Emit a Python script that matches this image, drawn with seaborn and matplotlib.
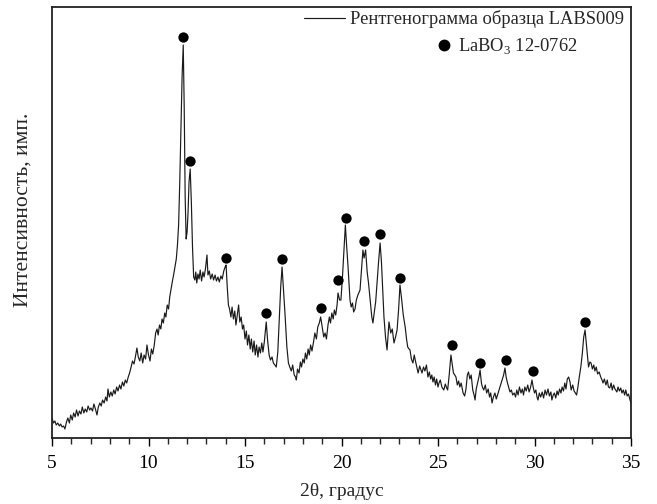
import matplotlib
matplotlib.use("Agg")
import matplotlib.pyplot as plt
import seaborn as sns
import pandas as pd
from matplotlib.ticker import MultipleLocator, NullLocator
from matplotlib.lines import Line2D

# ---- data (2theta in degrees, intensity in arbitrary units) ----
two_theta = [
    5.00, 5.08, 5.15, 5.22, 5.30, 5.38, 5.45, 5.52, 5.60, 5.67, 5.75, 5.82, 5.90, 5.97,
    6.05, 6.12, 6.20, 6.27, 6.35, 6.42, 6.50, 6.57, 6.65, 6.72, 6.80, 6.87, 6.95, 7.02,
    7.10, 7.17, 7.25, 7.33, 7.40, 7.48, 7.55, 7.62, 7.70, 7.78, 7.85, 7.90, 7.97, 8.05,
    8.12, 8.20, 8.27, 8.35, 8.42, 8.50, 8.57, 8.65, 8.72, 8.80, 8.87, 8.95, 9.02, 9.10,
    9.17, 9.25, 9.32, 9.40, 9.47, 9.55, 9.62, 9.70, 9.77, 9.85, 9.92, 10.00, 10.08, 10.15,
    10.22, 10.30, 10.37, 10.44, 10.50, 10.57, 10.64, 10.70, 10.77, 10.84, 10.90, 10.97,
    11.04, 11.10, 11.17, 11.24, 11.30, 11.37, 11.44, 11.50, 11.56, 11.62, 11.68, 11.74,
    11.80, 11.85, 11.90, 11.95, 12.00, 12.05, 12.10, 12.16, 12.22, 12.28, 12.34, 12.40,
    12.45, 12.50, 12.56, 12.62, 12.68, 12.75, 12.82, 12.88, 12.95, 13.03, 13.08, 13.15,
    13.22, 13.30, 13.37, 13.45, 13.52, 13.60, 13.67, 13.75, 13.82, 13.90, 13.97, 14.02,
    14.08, 14.14, 14.20, 14.27, 14.33, 14.40, 14.47, 14.53, 14.60, 14.67, 14.73, 14.80,
    14.87, 14.93, 15.00, 15.07, 15.13, 15.20, 15.27, 15.33, 15.40, 15.47, 15.53, 15.60,
    15.67, 15.73, 15.80, 15.87, 15.93, 16.00, 16.05, 16.10, 16.17, 16.25, 16.32, 16.40,
    16.47, 16.55, 16.62, 16.70, 16.78, 16.85, 16.92, 17.00, 17.07, 17.17, 17.25, 17.32,
    17.40, 17.47, 17.55, 17.62, 17.66, 17.72, 17.80, 17.87, 17.93, 18.00, 18.07, 18.13,
    18.20, 18.27, 18.33, 18.40, 18.47, 18.55, 18.62, 18.70, 18.77, 18.85, 18.92, 19.00,
    19.08, 19.15, 19.22, 19.30, 19.37, 19.43, 19.50, 19.57, 19.63, 19.70, 19.77, 19.82,
    19.90, 19.97, 20.05, 20.12, 20.20, 20.27, 20.34, 20.40, 20.44, 20.50, 20.57, 20.63,
    20.70, 20.77, 20.85, 20.96, 21.03, 21.11, 21.17, 21.25, 21.33, 21.40, 21.50, 21.57,
    21.63, 21.70, 21.77, 21.84, 21.92, 22.00, 22.07, 22.12, 22.20, 22.28, 22.36, 22.46,
    22.55, 22.63, 22.72, 22.80, 22.88, 22.96, 23.03, 23.12, 23.20, 23.30, 23.37, 23.43,
    23.50, 23.55, 23.62, 23.70, 23.77, 23.82, 23.90, 23.97, 24.05, 24.12, 24.17, 24.25,
    24.32, 24.40, 24.48, 24.55, 24.62, 24.68, 24.74, 24.80, 24.87, 24.93, 25.00, 25.05,
    25.12, 25.20, 25.30, 25.38, 25.45, 25.50, 25.58, 25.67, 25.74, 25.80, 25.87, 25.93,
    26.00, 26.07, 26.13, 26.20, 26.30, 26.38, 26.45, 26.52, 26.58, 26.65, 26.72, 26.80,
    26.87, 26.92, 26.98, 27.05, 27.12, 27.18, 27.25, 27.30, 27.37, 27.45, 27.52, 27.60,
    27.67, 27.73, 27.80, 27.87, 27.95, 28.02, 28.10, 28.17, 28.25, 28.32, 28.40, 28.47,
    28.53, 28.60, 28.67, 28.73, 28.80, 28.87, 28.95, 29.02, 29.08, 29.15, 29.22, 29.30,
    29.37, 29.43, 29.50, 29.57, 29.65, 29.72, 29.80, 29.87, 29.93, 30.00, 30.07, 30.13,
    30.18, 30.25, 30.32, 30.40, 30.47, 30.55, 30.62, 30.70, 30.77, 30.85, 30.90, 30.97,
    31.03, 31.10, 31.17, 31.23, 31.30, 31.37, 31.43, 31.50, 31.57, 31.63, 31.70, 31.77,
    31.84, 31.90, 31.98, 32.05, 32.12, 32.18, 32.25, 32.32, 32.40, 32.48, 32.55, 32.62,
    32.68, 32.75, 32.80, 32.87, 32.93, 33.00, 33.07, 33.13, 33.20, 33.27, 33.35, 33.43,
    33.50, 33.55, 33.62, 33.70, 33.77, 33.83, 33.90, 33.97, 34.03, 34.10, 34.17, 34.27,
    34.33, 34.40, 34.47, 34.53, 34.60, 34.67, 34.73, 34.80, 34.87, 34.95, 35.00,
]
intensity = [
    19, 14, 16, 12, 14, 11, 13, 10, 11, 8, 15, 19, 14, 22,
    17, 24, 20, 27, 21, 26, 23, 30, 24, 28, 25, 31, 27, 29,
    26, 33, 28, 22, 30, 34, 31, 37, 34, 40, 36, 48, 40, 45,
    41, 47, 43, 50, 46, 52, 48, 55, 51, 57, 54, 60, 64, 70,
    76, 73, 80, 89, 80, 76, 84, 74, 82, 78, 92, 82, 76, 88,
    83, 92, 104, 108, 102, 112, 108, 118, 114, 124, 120, 132,
    128, 140, 148, 156, 162, 170, 178, 192, 212, 255, 310, 360,
    392, 330, 240, 198, 205, 225, 255, 268, 235, 190, 160, 157,
    165, 154, 163, 158, 167, 156, 165, 160, 168, 182, 162, 166,
    158, 163, 157, 162, 156, 160, 155, 161, 158, 166, 170, 172,
    150, 132, 128, 120, 130, 118, 126, 112, 122, 132, 115, 120,
    108, 112, 98, 106, 92, 102, 88, 98, 85, 96, 82, 92,
    80, 90, 84, 94, 85, 95, 105, 115, 97, 82, 77, 80,
    74, 72, 70, 85, 120, 150, 170, 145, 124, 90, 74, 70,
    66, 72, 62, 60, 57, 68, 64, 75, 70, 78, 74, 84,
    78, 88, 82, 92, 86, 95, 104, 98, 110, 114, 120, 110,
    100, 104, 98, 112, 120, 114, 124, 118, 127, 122, 132, 144,
    137, 137, 160, 185, 212, 190, 170, 150, 137, 130, 134, 125,
    128, 137, 142, 147, 165, 187, 179, 187, 165, 154, 134, 120,
    114, 125, 135, 154, 175, 194, 175, 154, 120, 100, 87, 115,
    104, 108, 94, 100, 107, 128, 152, 137, 122, 110, 98, 90,
    88, 87, 78, 74, 82, 77, 70, 64, 71, 67, 64, 70,
    66, 72, 60, 65, 58, 62, 55, 60, 52, 58, 50, 54,
    57, 50, 47, 53, 49, 47, 62, 82, 72, 64, 62, 60,
    52, 56, 50, 54, 44, 41, 48, 62, 65, 58, 62, 47,
    42, 37, 48, 54, 60, 67, 54, 50, 47, 52, 44, 48,
    40, 44, 34, 40, 44, 38, 43, 47, 52, 57, 62, 69,
    60, 54, 49, 45, 47, 42, 44, 40, 47, 42, 50, 44,
    48, 42, 50, 46, 52, 45, 50, 57, 50, 44, 47, 40,
    37, 44, 40, 45, 39, 47, 42, 48, 41, 45, 37, 42,
    44, 39, 46, 42, 48, 44, 50, 46, 54, 48, 58, 60,
    55, 47, 52, 46, 44, 42, 50, 60, 70, 84, 100, 107,
    94, 80, 70, 75, 74, 68, 72, 66, 70, 63, 65, 60,
    57, 54, 58, 52, 57, 50, 49, 54, 47, 52, 48, 45,
    50, 46, 49, 44, 47, 42, 47, 41, 43, 37, 34,
]

# LaBO3 (PDF 12-0762) reflections marked on the pattern
marker_two_theta = [11.80, 12.16, 14.03, 16.10, 16.93, 18.96, 19.80, 20.22,
                    21.16, 22.02, 23.05, 25.70, 27.20, 28.50, 29.90, 32.64]
marker_intensity = [400, 276, 179, 124, 178, 129, 157, 219,
                    196, 203, 159, 92, 74, 77, 66, 115]

x_ticks = [5, 10, 15, 20, 25, 30, 35]
x_label = "2θ, градус"
y_label = "Интенсивность, имп."
line_label = "Рентгенограмма образца LABS009"
marker_label = r"LaBO$_\mathregular{3}$ 12-0762"

# ---- plotting ----
sns.set_theme(style="ticks")
plt.rcParams["font.family"] = ["Liberation Serif", "DejaVu Serif"]
plt.rcParams["mathtext.fontset"] = "custom"
plt.rcParams["mathtext.rm"] = "Liberation Serif"

pattern = pd.DataFrame({"two_theta": two_theta, "intensity": intensity})
marks = pd.DataFrame({"two_theta": marker_two_theta, "intensity": marker_intensity})

fig = plt.figure(figsize=(6.57, 5.04), dpi=100)
ax = fig.add_axes([52 / 657, 1 - 438 / 504, (631 - 52) / 657, (438 - 7) / 504])

sns.lineplot(data=pattern, x="two_theta", y="intensity", ax=ax,
             color="#1a1a1a", linewidth=0.85, sort=False, legend=False)
sns.scatterplot(data=marks, x="two_theta", y="intensity", ax=ax,
                color="black", s=55, linewidth=0, legend=False, zorder=3)

ax.set_xlim(5, 35)
ax.set_ylim(-1, 430)
ax.set_xticks(x_ticks)
ax.set_xticklabels([str(t) for t in x_ticks])
ax.xaxis.set_minor_locator(MultipleLocator(1))
ax.yaxis.set_major_locator(NullLocator())
ax.tick_params(axis="x", which="major", direction="out", length=6, width=1.0,
               labelsize=14, pad=6, colors="black")
ax.tick_params(axis="x", which="minor", direction="out", length=4, width=1.0)
ax.tick_params(axis="y", left=False, labelleft=False)
for sp in ax.spines.values():
    sp.set_visible(True)
    sp.set_linewidth(1.3)
    sp.set_color("#222222")

ax.set_xlabel(x_label, fontsize=14, labelpad=8)
ax.set_ylabel(y_label, fontsize=15.5)
ax.yaxis.set_label_coords((33 - 52) / 579, (438 - 210) / 431)

h_line = Line2D([], [], color="#1a1a1a", linewidth=0.85)
h_mark = Line2D([], [], color="black", marker="o", linestyle="none", markersize=7.5)
leg1 = ax.legend([h_line], [line_label], loc="upper right", frameon=False,
                 fontsize=13.3, handlelength=2.2, handletextpad=0.25,
                 borderaxespad=0.0, bbox_to_anchor=(1.0, 1.0 + 4 / 431))
ax.add_artist(leg1)
ax.legend([h_mark], [marker_label], loc="upper right", frameon=False,
          fontsize=13.3, handlelength=1.0, handletextpad=0.25,
          borderaxespad=0.0, bbox_to_anchor=((579 - 52 + 6) / 579, 1 - 22 / 431))

fig.savefig("out.png", dpi=100)
